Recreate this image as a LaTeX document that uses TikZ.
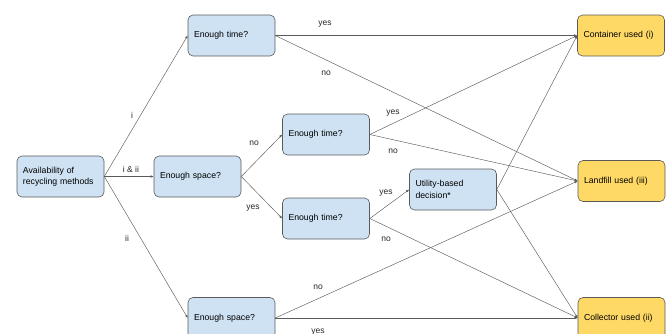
\documentclass[tikz,border=0pt]{standalone}
\usepackage{fontspec}
\setmainfont{Liberation Sans}
\usetikzlibrary{arrows.meta}
\definecolor{boxblue}{HTML}{CFE2F3}
\definecolor{boxyellow}{HTML}{FFD966}
\definecolor{edgegray}{HTML}{5A5A5A}
\tikzset{
  box/.style={draw=edgegray, line width=0.6pt, rounded corners=5pt,
    minimum width=87pt, minimum height=41pt, text width=75pt,
    inner xsep=6pt, align=left, font=\fontsize{8.7}{11.5}\selectfont},
  qbox/.style={box, fill=boxblue},
  abox/.style={box, fill=boxyellow},
  lbl/.style={font=\fontsize{8.5}{10}\selectfont, inner sep=1pt, text=black!85},
  link/.style={draw=edgegray, line width=0.45pt, -{Latex[length=3pt,width=2.4pt]}}
}

\begin{document}
\begin{tikzpicture}[x=1pt, y=-1pt]
    \useasboundingbox (0,0) rectangle (669,333);
    \clip (0,0) rectangle (669,333);
    % question boxes
    \node[qbox] (avail) at (60.5,176.5) {Availability of\\recycling methods};
    \node[qbox] (spaceA) at (197.5,176.5) {Enough space?};
    \node[qbox] (timeA) at (231.5,35.5) {Enough time?};
    \node[qbox] (timeB) at (326,134.5) {Enough time?};
    \node[qbox] (timeC) at (326,218.5) {Enough time?};
    \node[qbox] (util) at (453,189.5) {Utility-based\\decision*};
    \node[qbox] (spaceB) at (231.5,318) {Enough space?};
    % outcome boxes
    \node[abox] (container) at (621,35.5) {Container used (i)};
    \node[abox] (landfill) at (621.5,181) {Landfill used (iii)};
    \node[abox] (collector) at (621.5,318) {Collector used (ii)};
    % connectors
    \draw[link] (avail.east) -- (timeA.west);
    \draw[link] (avail.east) -- (spaceA.west);
    \draw[link] (avail.east) -- (spaceB.west);
    \draw[link] (timeA.east) -- (container.west);
    \draw[link] (timeA.east) -- (landfill.west);
    \draw[link] (spaceA.east) -- (timeB.west);
    \draw[link] (spaceA.east) -- (timeC.west);
    \draw[link] (timeB.east) -- (container.west);
    \draw[link] (timeB.east) -- (landfill.west);
    \draw[link] (timeC.east) -- (util.west);
    \draw[link] (timeC.east) -- (collector.west);
    \draw[link] (util.east) -- (container.west);
    \draw[link] (util.east) -- (collector.west);
    \draw[link] (spaceB.east) -- (landfill.west);
    \draw[link] (spaceB.east) -- (collector.west);
    % labels
    \node[lbl] (l1) at (132,115) {i};
    \node[lbl] (l2) at (131,169) {i \& ii};
    \node[lbl] (l3) at (127,238) {ii};
    \node[lbl] (tAy) at (325,24) {yes};
    \node[lbl] (tAn) at (326,73) {no};
    \node[lbl] (sAn) at (254,143) {no};
    \node[lbl] (sAy) at (253,208) {yes};
    \node[lbl] (tBy) at (393,113) {yes};
    \node[lbl] (tBn) at (393,151) {no};
    \node[lbl] (tCy) at (386,193) {yes};
    \node[lbl] (tCn) at (386,239) {no};
    \node[lbl] (sBn) at (318,287) {no};
    \node[lbl] (sBy) at (318,332) {yes};
\end{tikzpicture}
\end{document}
